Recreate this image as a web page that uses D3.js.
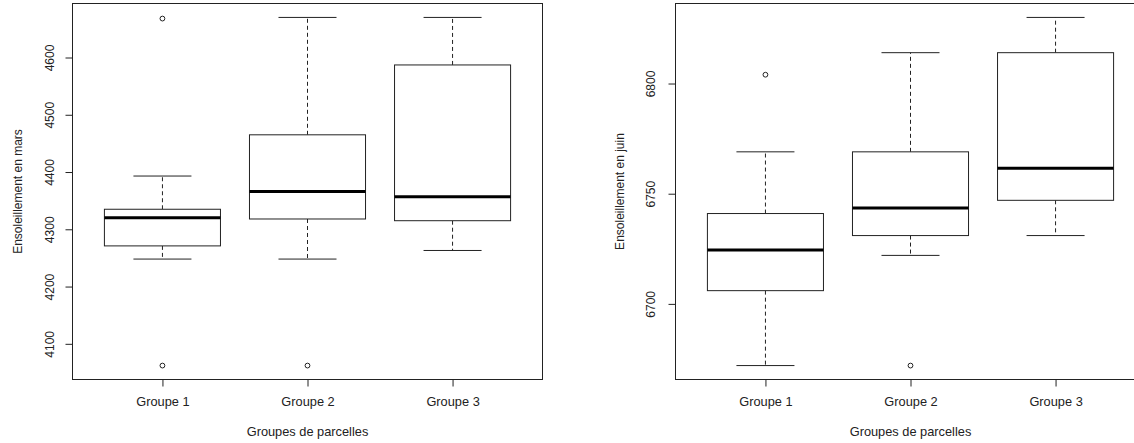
<!DOCTYPE html>
<html>
<head>
<meta charset="utf-8">
<script src="https://cdn.jsdelivr.net/npm/d3@7"></script>
<style>
  html, body { margin: 0; padding: 0; background: #fff; }
  svg { display: block; }
  text { font-family: "Liberation Sans", Arial, sans-serif; fill: #222; }
</style>
</head>
<body>
<svg id="chart" width="1134" height="443"></svg>
<script>
// ---- Data ----
const groups = ["Groupe 1", "Groupe 2", "Groupe 3"];

const marsLow = [4248, 4248, 4263];
const marsQ1 = [4271, 4318, 4315];
const marsMed = [4320, 4366, 4357];
const marsQ3 = [4335, 4465, 4587];
const marsHigh = [4393, 4670, 4670];
const marsOutliers = [[4062, 4668], [4062], []];
const marsTicks = [4100, 4200, 4300, 4400, 4500, 4600];

const juinLow = [6672, 6722, 6731];
const juinQ1 = [6706, 6731, 6747];
const juinMed = [6724.5, 6743.5, 6761.5];
const juinQ3 = [6741, 6769, 6814];
const juinHigh = [6769, 6814, 6830];
const juinOutliers = [[6804], [6672], []];
const juinTicks = [6700, 6750, 6800];

const xTitle = "Groupes de parcelles";
const marsTitle = "Ensoleillement en mars";
const juinTitle = "Ensoleillement en juin";

// ---- Drawing ----
const svg = d3.select("#chart");
const ink = "#222";

function panel(opts) {
  const { left, right, top, bottom, low, q1, med, q3, high, outliers, ticks, yTitle, yTitleX, tickLabelOffset } = opts;
  const g = svg.append("g");

  const allVals = low.concat(high, outliers.flat());
  const vmin = d3.min(allVals), vmax = d3.max(allVals);
  const ext = (vmax - vmin) * 0.04;
  const y = d3.scaleLinear().domain([vmin - ext, vmax + ext]).range([bottom, top]);
  const x = d3.scaleLinear().domain([0.38, 3.62]).range([left, right]);

  const boxHalf = 0.4, capHalf = 0.2;

  groups.forEach((name, i) => {
    const c = i + 1;
    const cx = x(c);
    // whiskers (dashed)
    g.append("line").attr("x1", cx).attr("x2", cx)
      .attr("y1", y(q3[i])).attr("y2", y(high[i]))
      .attr("stroke", ink).attr("stroke-width", 1).attr("stroke-dasharray", "4,3");
    g.append("line").attr("x1", cx).attr("x2", cx)
      .attr("y1", y(q1[i])).attr("y2", y(low[i]))
      .attr("stroke", ink).attr("stroke-width", 1).attr("stroke-dasharray", "4,3");
    // caps
    [low[i], high[i]].forEach(v => {
      g.append("line").attr("x1", x(c - capHalf)).attr("x2", x(c + capHalf))
        .attr("y1", y(v)).attr("y2", y(v))
        .attr("stroke", ink).attr("stroke-width", 1);
    });
    // box
    g.append("rect")
      .attr("x", x(c - boxHalf)).attr("y", y(q3[i]))
      .attr("width", x(c + boxHalf) - x(c - boxHalf))
      .attr("height", y(q1[i]) - y(q3[i]))
      .attr("fill", "#fff").attr("stroke", ink).attr("stroke-width", 1);
    // median
    g.append("line").attr("x1", x(c - boxHalf)).attr("x2", x(c + boxHalf))
      .attr("y1", y(med[i])).attr("y2", y(med[i]))
      .attr("stroke", "#000").attr("stroke-width", 3);
    // outliers
    outliers[i].forEach(v => {
      g.append("circle").attr("cx", cx).attr("cy", y(v)).attr("r", 2.4)
        .attr("fill", "none").attr("stroke", ink).attr("stroke-width", 1);
    });
  });

  // frame
  g.append("rect").attr("x", left).attr("y", top)
    .attr("width", right - left).attr("height", bottom - top)
    .attr("fill", "none").attr("stroke", ink).attr("stroke-width", 1);

  // y axis
  const yAxis = d3.axisLeft(y).tickValues(ticks).tickSize(7).tickFormat(d3.format("d"));
  const ya = g.append("g").attr("transform", `translate(${left},0)`).call(yAxis);
  ya.select(".domain").remove();
  ya.selectAll(".tick line").attr("stroke", ink);
  ya.selectAll(".tick text")
    .attr("x", null).attr("dy", "0.35em")
    .attr("transform", `translate(${-tickLabelOffset},0) rotate(-90)`)
    .attr("text-anchor", "middle")
    .style("font-family", "'Liberation Sans', Arial, sans-serif")
    .style("font-size", "12px").attr("fill", ink);

  // x axis
  const xAxis = d3.axisBottom(x).tickValues([1, 2, 3]).tickSize(7).tickFormat(d => groups[d - 1]);
  const xa = g.append("g").attr("transform", `translate(0,${bottom})`).call(xAxis);
  xa.select(".domain").remove();
  xa.selectAll(".tick line").attr("stroke", ink);
  xa.selectAll(".tick text")
    .attr("y", 22.4).attr("dy", "0.35em")
    .style("font-family", "'Liberation Sans', Arial, sans-serif")
    .style("font-size", "12.8px").attr("fill", ink);

  // titles
  g.append("text").attr("x", x(2)).attr("y", 432).attr("dy", "0.35em")
    .attr("text-anchor", "middle").style("font-size", "12.8px").text(xTitle);
  g.append("text")
    .attr("transform", `translate(${yTitleX},${(top + bottom) / 2}) rotate(-90)`)
    .attr("dy", "0.35em").attr("text-anchor", "middle")
    .style("font-size", "12px").text(yTitle);
}

panel({
  left: 72.5, right: 542.5, top: 3.5, bottom: 379.5,
  low: marsLow, q1: marsQ1, med: marsMed, q3: marsQ3, high: marsHigh, outliers: marsOutliers,
  ticks: marsTicks, yTitle: marsTitle, yTitleX: 17.3, tickLabelOffset: 23
});
panel({
  left: 675.5, right: 1145.5, top: 3.5, bottom: 379.5,
  low: juinLow, q1: juinQ1, med: juinMed, q3: juinQ3, high: juinHigh, outliers: juinOutliers,
  ticks: juinTicks, yTitle: juinTitle, yTitleX: 619.3, tickLabelOffset: 24.6
});
</script>
</body>
</html>
